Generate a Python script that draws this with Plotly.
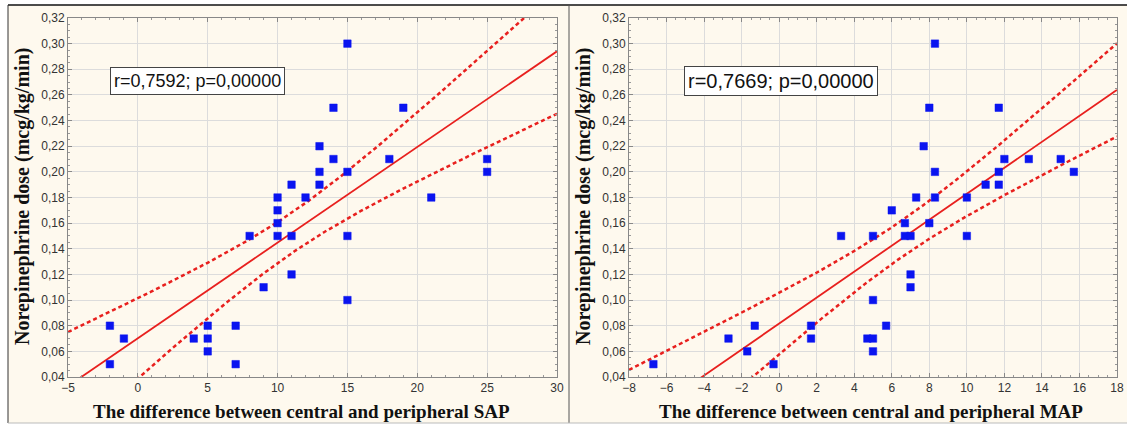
import numpy as np
import plotly.graph_objects as go

# ---- data: left panel (SAP difference) ----
sap_x = [-2, -2, -1, 4, 5, 5, 5, 7, 7, 8, 9, 10, 10, 10, 10, 11, 11, 11, 12,
         13, 13, 13, 14, 14, 15, 15, 15, 15, 18, 19, 21, 25, 25]
sap_y = [0.08, 0.05, 0.07, 0.07, 0.08, 0.07, 0.06, 0.08, 0.05, 0.15, 0.11,
         0.18, 0.17, 0.16, 0.15, 0.19, 0.15, 0.12, 0.18, 0.22, 0.20, 0.19,
         0.25, 0.21, 0.30, 0.20, 0.15, 0.10, 0.21, 0.25, 0.18, 0.21, 0.20]

# ---- data: right panel (MAP difference) ----
map_x = [-6.7, -2.7, -1.7, -1.3, -0.3, 1.7, 1.7, 3.3, 4.7, 5.0, 5.0, 5.0, 5.0,
         5.7, 6.0, 6.7, 6.7, 7.0, 7.0, 7.0, 7.3, 7.7, 8.0, 8.0, 8.3, 8.3, 8.3,
         10.0, 10.0, 11.0, 11.7, 11.7, 11.7, 12.0, 13.3, 15.0, 15.7]
map_y = [0.05, 0.07, 0.06, 0.08, 0.05, 0.08, 0.07, 0.15, 0.07, 0.07, 0.06, 0.10,
         0.15, 0.08, 0.17, 0.16, 0.15, 0.15, 0.12, 0.11, 0.18, 0.22, 0.25, 0.16,
         0.30, 0.20, 0.18, 0.18, 0.15, 0.19, 0.25, 0.20, 0.19, 0.21, 0.21, 0.21,
         0.20]

sap_label = "r=0,7592; p=0,00000"
map_label = "r=0,7669; p=0,00000"
y_title = "Norepinephrine dose (mcg/kg/min)"
sap_title = "The difference between central and peripheral SAP"
map_title = "The difference between central and peripheral MAP"

W, H = 1127, 426
RED = "#e8201e"
BLUE = "#0a14f0"


def fit_band(x, y, xr):
    x = np.asarray(x, float)
    y = np.asarray(y, float)
    n = len(x)
    b, a = np.polyfit(x, y, 1)
    res = y - (a + b * x)
    s = np.sqrt(np.sum(res ** 2) / (n - 2))
    xm = x.mean()
    sxx = np.sum((x - xm) ** 2)
    t = 2.035
    xs = np.linspace(xr[0], xr[1], 200)
    yh = a + b * xs
    half = t * s * np.sqrt(1.0 / n + (xs - xm) ** 2 / sxx)
    return xs, yh, yh - half, yh + half


fig = go.Figure()

px = lambda v: v / W
py = lambda v: 1 - v / H

# panel backgrounds
fig.add_shape(type="rect", xref="paper", yref="paper", x0=px(8), x1=1,
              y0=py(423), y1=py(5), fillcolor="#fef9ee", line=dict(width=0), layer="below")
fig.add_shape(type="line", xref="paper", yref="paper", x0=px(8), x1=1,
              y0=py(5), y1=py(5), line=dict(color="#111111", width=1.5))
fig.add_shape(type="line", xref="paper", yref="paper", x0=px(8), x1=px(8),
              y0=py(423), y1=py(5), line=dict(color="#333333", width=1))
fig.add_shape(type="line", xref="paper", yref="paper", x0=px(569), x1=px(569),
              y0=py(423), y1=py(5), line=dict(color="#555555", width=1))
fig.add_shape(type="line", xref="paper", yref="paper", x0=px(8), x1=1,
              y0=py(423), y1=py(423), line=dict(color="#bbbbbb", width=1))

panels = [
    (sap_x, sap_y, [-5, 30], "x", "y", sap_label, sap_title, 68, 557, 301, 110, 18),
    (map_x, map_y, [-8, 18], "x2", "y2", map_label, map_title, 629, 1117, 871, 684, 20),
]

for (xd, yd, xr, xa, ya, lab, xt, l, r, tx, bx, bs) in panels:
    xs, yh, lo, hi = fit_band(xd, yd, xr)
    for band in (lo, hi):
        fig.add_trace(go.Scatter(x=xs, y=band, mode="lines", xaxis=xa, yaxis=ya,
                                 line=dict(color=RED, width=2.5, dash="4px,3px"),
                                 hoverinfo="skip", showlegend=False))
    fig.add_trace(go.Scatter(x=xs, y=yh, mode="lines", xaxis=xa, yaxis=ya,
                             line=dict(color=RED, width=1.8),
                             hoverinfo="skip", showlegend=False))
    fig.add_trace(go.Scatter(x=xd, y=yd, mode="markers", xaxis=xa, yaxis=ya,
                             marker=dict(symbol="square", size=7.5, color=BLUE,
                                         line=dict(width=0.5, color=BLUE)),
                             showlegend=False))
    fig.add_annotation(x=px(tx), y=py(411), xref="paper", yref="paper",
                       xanchor="center", yanchor="middle",
                       text="<b>" + xt + "</b>", showarrow=False,
                       font=dict(family="Liberation Serif", size=19, color="#111111"))
    fig.add_annotation(x=px(l - 46), y=py(197), xref="paper", yref="paper",
                       xanchor="center", yanchor="middle",
                       text="<b>" + y_title + "</b>", showarrow=False, textangle=-90,
                       font=dict(family="Liberation Serif", size=20, color="#111111"))
    fig.add_annotation(x=px(bx), y=py(81), xref="paper", yref="paper",
                       xanchor="left", yanchor="middle", text=lab, showarrow=False,
                       bgcolor="white", bordercolor="#444444", borderwidth=1, borderpad=3,
                       font=dict(family="Liberation Sans", size=bs, color="#111111"))

axis_common = dict(showgrid=True, gridcolor="#dcdcdc", gridwidth=1, zeroline=False,
                   showline=True, linecolor="#888888", linewidth=1, mirror="ticks",
                   ticks="inside", ticklen=4, tickcolor="#888888",
                   tickfont=dict(family="Liberation Sans", size=12, color="#333333"))
minor = dict(ticks="inside", ticklen=2, tickcolor="#999999", showgrid=False)

fig.update_layout(
    width=W, height=H, margin=dict(l=0, r=0, t=0, b=0, autoexpand=False),
    paper_bgcolor="white", plot_bgcolor="white", separators=", ",
    xaxis=dict(domain=[px(68), px(557)], range=[-5, 30], dtick=5, anchor="y",
               minor=dict(dtick=1, **minor), **axis_common),
    yaxis=dict(domain=[py(377), py(18)], range=[0.04, 0.32], dtick=0.02,
               tickformat=".2f", anchor="x", minor=dict(dtick=0.005, **minor), **axis_common),
    xaxis2=dict(domain=[px(629), px(1117)], range=[-8, 18], dtick=2, anchor="y2",
                minor=dict(dtick=0.5, **minor), **axis_common),
    yaxis2=dict(domain=[py(377), py(18)], range=[0.04, 0.32], dtick=0.02,
                tickformat=".2f", anchor="x2", minor=dict(dtick=0.005, **minor), **axis_common),
)

fig.write_html("out.html", config={"displayModeBar": False},
               post_script="document.body.style.margin='0px';document.body.style.overflow='hidden';")
